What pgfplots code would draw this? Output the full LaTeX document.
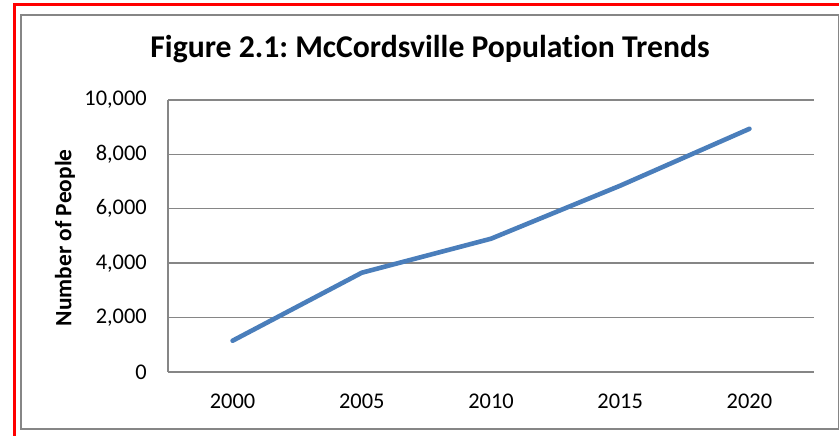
\documentclass[border=0pt]{standalone}
\usepackage{pgfplots}
\pgfplotsset{compat=1.18}
\usepackage{fontspec}
\setmainfont{Carlito}[RawFeature={-liga}]
\frenchspacing
\definecolor{frame}{RGB}{134,134,134}
\definecolor{series}{RGB}{74,126,187}
\begin{document}
\begin{tikzpicture}[x=1bp,y=1bp]
\begin{scope}
\clip (0,0) rectangle (839,436);
\draw[red, line width=3bp] (14.5,-40) rectangle (880,431);
\draw[frame, line width=1.4bp] (21,7) rectangle (838.3,421);
\end{scope}
\begin{axis}[
  at={(168bp,64bp)}, anchor=south west,
  scale only axis, width=646bp, height=272bp,
  xmin=-0.5, xmax=4.5, ymin=0, ymax=10000,
  xtick={0,1,2,3,4}, xticklabels={2000,2005,2010,2015,2020},
  ytick={0,2000,4000,6000,8000,10000},
  major tick length=0pt,
  axis x line*=bottom, axis y line*=left,
  axis line style={frame, line width=1.4bp, -},
  ymajorgrids, grid style={frame, line width=1.4bp},
  /pgf/number format/.cd, 1000 sep={,}, assume math mode=true, /pgfplots/.cd,
  scaled y ticks=false,
  tick label style={font=\fontsize{22.5}{24}\selectfont, inner sep=0pt},
  yticklabel style={anchor=east, xshift=-21bp},
  xticklabel style={anchor=north, yshift=-22bp},
  title={Figure 2.1: McCordsville Population Trends},
  title style={font=\bfseries\fontsize{31.8}{34}\selectfont, at={(axis description cs:0.4056,1)}, anchor=base, yshift=37bp, inner sep=0pt},
  ylabel={Number of People},
  ylabel style={font=\bfseries\fontsize{23.5}{26}\selectfont, at={(axis description cs:-0.1594,0.493)}, anchor=center, inner sep=0pt},
  clip=false,
]
\addplot[series, line width=4.6bp, line cap=round, line join=round] coordinates {
  (0,1150) (1,3650) (2,4900) (3,6850) (4,8940)
};
\end{axis}
\pgfresetboundingbox
\useasboundingbox (0,0) rectangle (839,436);
\end{tikzpicture}
\end{document}
